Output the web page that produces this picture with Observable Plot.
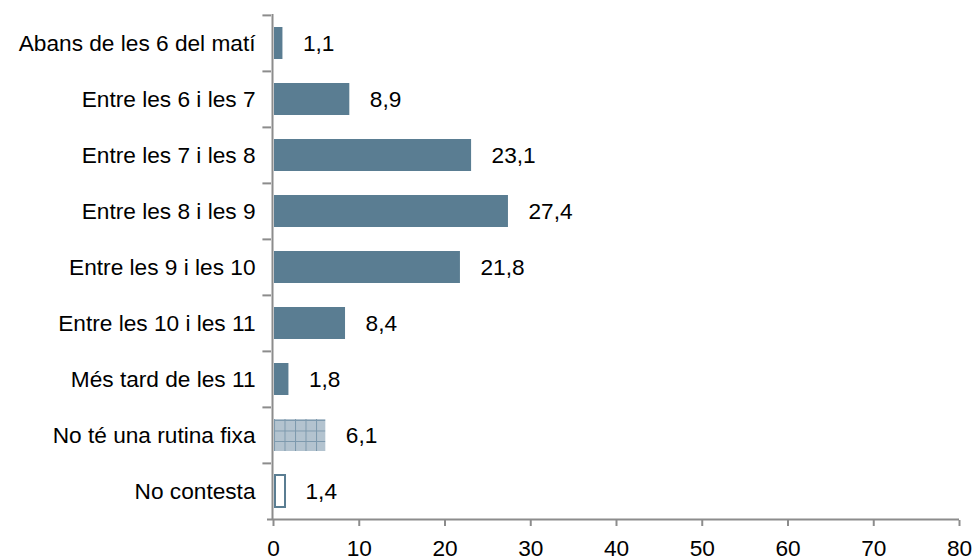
<!DOCTYPE html>
<html>
<head>
<meta charset="utf-8">
<script src="https://cdn.jsdelivr.net/npm/d3@7"></script>
<script src="https://cdn.jsdelivr.net/npm/@observablehq/plot@0.6"></script>
<style>
  body { margin: 0; background: #fff; overflow: hidden; }
  svg { font-family: "Liberation Sans", Arial, sans-serif; display: block; }
</style>
</head>
<body>
<div id="chart"></div>
<script>
const categories = [
  "Abans de les 6 del matí",
  "Entre les 6 i les 7",
  "Entre les 7 i les 8",
  "Entre les 8 i les 9",
  "Entre les 9 i les 10",
  "Entre les 10 i les 11",
  "Més tard de les 11",
  "No té una rutina fixa",
  "No contesta"
];
const values = [1.1, 8.9, 23.1, 27.4, 21.8, 8.4, 1.8, 6.1, 1.4];
const kinds = ["solid","solid","solid","solid","solid","solid","solid","pattern","outline"];
const xTicks = [0, 10, 20, 30, 40, 50, 60, 70, 80];

const data = categories.map((c, i) => ({cat: c, value: values[i], kind: kinds[i]}));

const W = 973, H = 558, mT = 14, mB = 38;
const step = (H - mT - mB) / categories.length;
const FS = 22.67;
const barColor = "#5a7d92";
const axisColor = "#8c8c8c";
const fmt = v => v.toFixed(1).replace(".", ",");

const chart = Plot.plot({
  width: W,
  height: H,
  marginLeft: 273,
  marginRight: 14,
  marginTop: mT,
  marginBottom: mB,
  style: {fontSize: FS + "px", fontFamily: "Liberation Sans, Arial, sans-serif", color: "black", background: "white", overflow: "visible"},
  x: {domain: [0, 80], ticks: xTicks, tickFormat: d => String(d)},
  y: {domain: categories, paddingInner: 0.43, paddingOuter: 0.215, align: 0.5},
  marks: [
    Plot.barX(data.filter(d => d.kind === "solid"), {
      x: "value", y: "cat", fill: barColor, insetLeft: 1
    }),
    Plot.barX(data.filter(d => d.kind === "pattern"), {
      x: "value", y: "cat", fill: "url(#gridpat)", insetLeft: 1
    }),
    Plot.barX(data.filter(d => d.kind === "outline"), {
      x: "value", y: "cat", fill: "white", stroke: barColor, strokeWidth: 2, insetLeft: 2
    }),
    Plot.text(data, {
      x: "value", y: "cat", text: d => fmt(d.value),
      textAnchor: "start", dx: 20, fontSize: FS, fill: "black"
    }),
    // y-axis category ticks between bands
    Plot.ruleY(categories, {y: d => d, dy: -step / 2, x1: -1, x2: 0, dx: -2, stroke: axisColor, strokeWidth: 2}),
    Plot.ruleX([0], {stroke: axisColor, strokeWidth: 2, dx: -1}),
    Plot.ruleY([categories[categories.length - 1]], {y: d => d, dy: step / 2, x1: -0.7, x2: 80, stroke: axisColor, strokeWidth: 2}),
    Plot.axisX({ticks: xTicks, tickSize: 6, tickPadding: 13, stroke: axisColor, strokeWidth: 2, fontSize: FS, fill: "black", label: null}),
    Plot.axisY({tickSize: 0, tickPadding: 18, fontSize: FS, fill: "black", label: null})
  ]
});

// pattern definition for "No té una rutina fixa"
const svg = d3.select(chart);
const defs = svg.insert("defs", ":first-child");
const pat = defs.append("pattern")
  .attr("id", "gridpat").attr("patternUnits", "userSpaceOnUse")
  .attr("width", 10.5).attr("height", 10.5).attr("x", 274).attr("y", 0);
pat.append("rect").attr("width", 10.5).attr("height", 10.5).attr("fill", "#b3c3cf");
pat.append("path").attr("d", "M0,0.5H10.5M0.5,0V10.5").attr("stroke", "#7d99ad").attr("stroke-width", 1);

document.getElementById("chart").appendChild(chart);
</script>
</body>
</html>
